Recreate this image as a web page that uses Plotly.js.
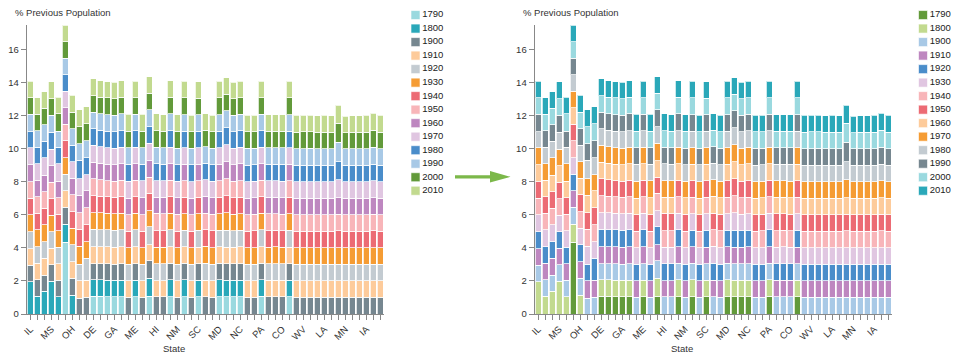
<!DOCTYPE html>
<html><head><meta charset="utf-8">
<script src="https://cdn.plot.ly/plotly-3.0.1.min.js"></script>
<style>html,body{margin:0;padding:0;background:#fff}#chart{width:959px;height:357px}</style>
</head><body><div id="chart"></div>
<script>
const states = ['IL','IN','MO','MS','AL','KY','OH','TN','MI','DE',
  'NJ','NY','GA','CT','AR','ME','NH','VT','HI','AZ',
  'MA','NM','RI','NV','SC','CA','FL','MD','VA','DC',
  'NC','OR','TX','PA','WA','UT','CO','KS','NE','WV',
  'WI','OK','LA','ND','SD','MN','MT','ID','IA','WY','AK'];
const labeledStates = ['IL','MS','OH','DE','GA','ME','HI','NM','SC','MD','NC','PA','CO','WV','LA','MN','IA'];
const years = ['1790','1800','1900','1910','1920','1930','1940','1950','1960','1970','1980','1990','2000','2010'];

const y1790 = [null,null,null,null,null,4.36,null,null,null,1.06,
  1.06,1.05,1.04,1.05,null,1.05,null,1.09,null,null,
  1.05,null,1.04,null,1.05,null,null,1.05,1.05,1.04,
  1.05,null,null,1.06,null,null,null,1.05,null,null,
  null,null,null,null,null,null,null,null,null,null,null];
const y1800 = [1.96,1.07,1.38,1.97,1.05,1.09,1.15,null,null,1.01,
  1.0,1.0,1.0,1.0,null,1.0,null,1.09,null,null,
  1.02,null,1.02,null,1.0,null,null,1.02,1.0,1.0,
  1.0,null,null,1.0,null,null,null,1.0,null,null,
  null,null,null,null,null,null,null,null,null,null,null];
const y1900 = [0.99,1.0,0.98,1.0,1.0,1.01,1.01,0.95,1.0,0.98,
  0.97,0.98,0.98,0.98,1.0,0.98,1.0,1.05,1.05,1.03,
  1.0,1.02,1.0,1.02,1.0,1.04,1.02,1.0,1.0,1.0,
  1.0,1.02,1.02,1.0,1.04,1.04,1.04,1.0,1.02,1.02,
  1.02,1.02,1.02,1.0,1.0,1.0,1.02,1.0,1.02,1.02,1.02];
const y1910 = [1.01,1.0,1.01,1.0,1.0,0.99,1.01,1.05,1.03,1.03,
  1.03,1.03,1.02,1.03,1.0,1.03,1.0,0.97,0.97,0.99,
  1.0,1.0,1.0,1.0,1.0,1.0,1.0,1.0,1.0,1.0,
  1.02,1.0,1.0,1.02,1.0,1.0,1.0,1.0,1.0,1.0,
  1.0,1.0,1.0,1.0,1.0,1.0,1.0,1.0,1.0,1.0,1.0];
const y1920 = [1.03,1.0,1.01,1.0,1.0,1.01,1.01,1.0,1.34,1.05,
  1.05,1.04,1.04,1.04,1.0,1.04,1.02,1.09,1.01,1.01,
  1.04,1.0,1.02,1.0,1.02,1.02,1.0,1.01,1.02,1.0,
  1.01,1.0,1.0,1.02,1.0,1.0,1.0,1.03,1.0,1.0,
  1.0,1.0,1.0,1.0,1.02,1.0,1.0,1.0,1.0,1.0,1.0];
const y1930 = [1.01,1.02,1.01,1.02,1.0,1.01,1.01,1.1,1.01,1.01,
  1.01,1.0,1.0,1.0,1.0,1.0,1.0,0.97,1.01,1.01,
  1.0,1.0,1.0,1.0,1.0,1.04,1.0,1.0,1.05,1.0,
  1.0,1.0,1.0,1.0,1.0,1.02,1.0,1.0,1.0,1.0,
  1.0,1.0,1.0,1.0,1.0,1.0,1.0,1.0,1.0,1.0,1.0];
const y1940 = [1.0,1.0,1.01,1.0,1.0,1.01,1.01,1.03,1.01,1.02,
  1.0,1.0,0.98,1.0,1.02,1.0,1.0,1.05,1.01,1.0,
  1.0,1.0,1.0,1.0,1.0,1.0,1.02,1.0,1.03,1.0,
  1.0,1.0,1.02,1.0,1.0,1.0,1.0,1.0,1.0,1.0,
  1.0,1.0,1.0,1.0,1.02,1.0,1.0,1.0,1.0,1.02,1.0];
const y1950 = [1.02,1.0,1.01,1.0,1.0,1.02,1.01,1.01,1.05,1.02,
  1.0,0.98,0.98,1.0,1.0,1.0,1.0,0.97,1.05,1.02,
  1.0,1.02,1.0,1.0,1.0,1.0,1.0,1.0,1.03,1.0,
  1.0,1.0,1.0,1.0,1.02,1.0,1.0,1.0,1.0,1.0,
  1.0,1.0,1.0,1.0,1.0,1.0,1.0,1.0,1.0,1.0,1.0];
const y1960 = [1.01,1.02,1.0,1.0,1.0,1.0,1.0,1.06,1.01,1.02,
  1.0,1.0,1.0,1.0,1.0,1.0,1.02,1.01,0.97,1.0,
  1.0,1.0,1.0,1.0,1.0,1.02,1.0,1.0,1.05,1.0,
  1.02,1.0,1.0,1.0,1.0,1.0,1.0,1.0,1.0,1.0,
  1.0,1.0,1.0,1.0,1.01,1.0,1.0,1.0,1.0,1.0,1.0];
const y1970 = [1.05,1.0,1.05,1.0,1.05,1.0,1.0,1.0,0.97,1.01,
  1.0,1.0,1.0,1.0,1.02,1.0,1.02,1.05,1.01,1.0,
  1.0,1.0,1.0,1.0,1.0,1.0,1.0,1.0,1.03,1.0,
  1.0,1.0,1.0,1.0,1.0,1.0,1.0,1.0,1.0,1.0,
  1.0,1.0,1.0,1.0,1.07,1.0,1.0,1.0,1.0,1.02,1.0];
const y1980 = [0.97,1.0,1.0,1.02,1.0,1.0,1.0,1.1,1.04,1.0,
  1.0,1.0,1.0,1.01,1.02,1.0,1.0,1.01,1.01,1.0,
  1.0,1.0,1.0,1.02,1.0,1.0,1.0,1.0,1.03,1.0,
  1.0,1.0,1.0,1.0,1.0,1.0,1.02,1.0,1.0,1.0,
  1.0,1.0,1.0,1.0,1.11,1.0,1.0,1.0,1.0,1.0,1.0];
const y1990 = [1.05,0.98,1.0,1.03,0.97,1.0,1.0,1.02,1.04,1.02,
  1.01,1.0,1.0,1.01,1.02,1.0,1.02,1.01,1.01,1.0,
  1.01,1.0,1.0,1.0,1.0,1.0,1.0,1.0,1.01,1.0,
  1.0,1.02,1.0,1.0,1.0,1.0,1.0,1.0,1.0,1.0,
  1.02,1.0,1.0,1.0,1.17,1.0,1.0,1.0,1.0,1.03,1.0];
const y2000 = [0.99,1.02,1.0,1.0,1.05,1.0,1.02,1.02,1.03,1.0,
  1.0,1.0,1.0,1.0,1.0,1.0,1.0,1.01,1.0,1.0,
  1.0,1.02,1.0,1.0,1.0,1.0,1.0,1.0,1.0,1.0,
  1.0,1.0,1.0,1.0,1.0,1.0,1.0,1.0,1.0,1.02,
  1.0,1.0,1.0,1.0,1.16,0.98,1.0,1.0,1.0,1.04,1.0];
const y2010 = [1.01,1.0,1.0,1.03,1.0,1.0,1.01,1.02,1.02,1.02,
  1.0,0.99,1.0,1.0,1.02,1.0,1.02,0.99,1.04,1.0,
  1.0,1.0,1.0,1.0,1.0,1.0,1.0,1.0,1.0,1.0,
  1.0,1.0,1.0,1.0,1.0,1.0,1.0,1.0,1.02,1.0,
  1.0,1.0,1.02,1.0,1.09,1.0,1.0,1.0,1.02,1.04,1.02];

const series = [y1790,y1800,y1900,y1910,y1920,y1930,y1940,y1950,y1960,y1970,y1980,y1990,y2000,y2010];

const colorsLeft = ['#9AD9DF','#2AA8B9','#768790','#FDCB9B','#C3CBD1','#F59C34','#EC6B74','#F8B5B9',
  '#BE87C0','#E0C6E1','#4A8DCA','#A8C9E6','#629A3A','#C2DA8F'];
const colorsRight = ['#629A3A','#C2DA8F','#A8C9E6','#BE87C0','#4A8DCA','#E0C6E1','#F8B5B9','#EC6B74',
  '#FDCB9B','#F59C34','#C3CBD1','#768790','#9AD9DF','#2AA8B9'];

const W = 959, H = 357;
const px = v => v / W;
const py = v => 1 - v / H;
const FONT = 'Liberation Sans, Arial, Helvetica, sans-serif';
const TXT = '#333';

const traces = [];
years.forEach((yr, i) => {
  traces.push({type:'bar', name:yr, x:states, y:series[i], xaxis:'x', yaxis:'y',
    marker:{color:colorsLeft[i], line:{color:'rgba(255,255,255,0.75)', width:1}},
    showlegend:false, hoverinfo:'x+y+name'});
});
years.forEach((yr, i) => {
  traces.push({type:'bar', name:yr, x:states, y:series[i], xaxis:'x2', yaxis:'y2',
    marker:{color:colorsRight[i], line:{color:'rgba(255,255,255,0.75)', width:1}},
    showlegend:false, hoverinfo:'x+y+name'});
});
// legends drawn as marker traces on their own axes
traces.push({type:'scatter', mode:'markers+text', x:years.map(()=>0), y:years, text:years,
  textposition:'middle right', xaxis:'x3', yaxis:'y3', cliponaxis:false, hoverinfo:'skip', showlegend:false,
  marker:{symbol:'square', size:9, color:colorsLeft, line:{color:'rgba(255,255,255,0.6)', width:1}},
  textfont:{family:FONT, size:9.5, color:'#222'}});
traces.push({type:'scatter', mode:'markers+text', x:years.map(()=>0), y:years, text:years,
  textposition:'middle right', xaxis:'x4', yaxis:'y4', cliponaxis:false, hoverinfo:'skip', showlegend:false,
  marker:{symbol:'square', size:9, color:colorsRight, line:{color:'rgba(255,255,255,0.6)', width:1}},
  textfont:{family:FONT, size:9.5, color:'#222'}});

const tickText = states.map(s => labeledStates.includes(s) ? s : '');
function xAx(d0, d1, anchor){
  return {domain:[px(d0), px(d1)], anchor:anchor, type:'category', categoryarray:states,
    range:[-0.5, states.length - 0.5], tickmode:'array', tickvals:states, ticktext:tickText,
    tickangle:-45, ticks:'outside', ticklen:5, tickcolor:'#888', tickwidth:1,
    showline:true, linecolor:'#888', linewidth:1, showgrid:false, zeroline:false,
    tickfont:{family:FONT, size:9.5, color:TXT}, fixedrange:true};
}
function yAx(anchor){
  return {domain:[py(314), py(25)], anchor:anchor, range:[0, 17.5], dtick:2, tick0:0,
    ticks:'outside', ticklen:5, tickcolor:'#888', tickwidth:1, showline:true, linecolor:'#888', linewidth:1,
    showgrid:false, zeroline:false, tickfont:{family:FONT, size:9.5, color:TXT}, fixedrange:true};
}
const legY = {type:'category', categoryarray:years, range:[years.length - 0.5, -0.5],
  domain:[py(197.5), py(8.3)], visible:false, fixedrange:true};

const ann = [];
function addText(text, x, y, xanchor){
  ann.push({text:text, xref:'paper', yref:'paper', x:px(x), y:py(y), xanchor:xanchor, yanchor:'middle',
    showarrow:false, font:{family:FONT, size:9.5, color:TXT}});
}
addText('% Previous Population', 12.5, 13, 'left');
addText('% Previous Population', 520.5, 13, 'left');
addText('State', 173.5, 348, 'center');
addText('State', 681.5, 348, 'center');

const arrowPath = 'M ' + px(455) + ',' + py(175.2) + ' L ' + px(490) + ',' + py(175.2) + ' L ' + px(490) + ',' + py(171) +
  ' L ' + px(510.5) + ',' + py(176.8) + ' L ' + px(490) + ',' + py(182.6) + ' L ' + px(490) + ',' + py(178.4) +
  ' L ' + px(455) + ',' + py(178.4) + ' Z';

const layout = {
  width:W, height:H, margin:{l:0, r:0, t:0, b:0, pad:0},
  paper_bgcolor:'#fff', plot_bgcolor:'rgba(0,0,0,0)',
  barmode:'stack', bargap:0.143, showlegend:false,
  font:{family:FONT, size:9.5, color:TXT},
  xaxis:xAx(26.8, 383.8, 'y'), yaxis:yAx('x'),
  xaxis2:xAx(534.6, 891.6, 'y2'), yaxis2:yAx('x2'),
  xaxis3:{domain:[px(415.5), px(470)], range:[0,1], anchor:'y3', visible:false, fixedrange:true},
  yaxis3:Object.assign({anchor:'x3'}, legY),
  xaxis4:{domain:[px(923), px(958)], range:[0,1], anchor:'y4', visible:false, fixedrange:true},
  yaxis4:Object.assign({anchor:'x4'}, legY),
  annotations:ann,
  shapes:[{type:'path', xref:'paper', yref:'paper', path:arrowPath, fillcolor:'#7CB84A', line:{width:0}}]
};
Plotly.newPlot('chart', traces, layout, {displayModeBar:false, staticPlot:true});
</script></body></html>
